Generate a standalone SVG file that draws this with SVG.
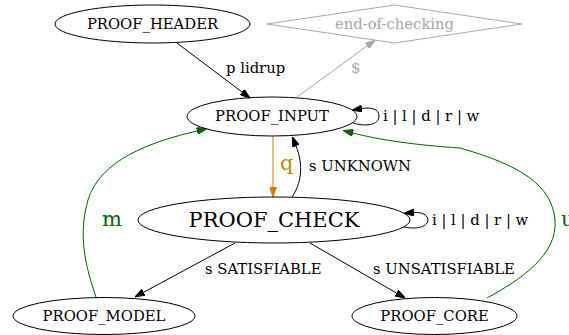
<svg xmlns="http://www.w3.org/2000/svg" width="569" height="335" viewBox="0 0 569 335">
<style>
text{font-family:"DejaVu Serif","Liberation Serif",serif;font-size:14.8px;fill:#000}
.n{fill:none;stroke:#000;stroke-width:1}
.c{text-anchor:middle}
.e{fill:none;stroke:#000;stroke-width:1}
.gray{stroke:#a8a8a8}
.grayt{fill:#a8a8a8}
.org{stroke:#cd8500}
.orgt{fill:#cd8500;font-size:21px}
.grn{stroke:#006400}
.grnt{fill:#006400;font-size:21px}
</style>
<defs>
<marker id="ab" markerUnits="userSpaceOnUse" markerWidth="10" markerHeight="7" refX="0" refY="3.5" orient="auto"><path d="M0,0 L10,3.5 L0,7 z" fill="#000" stroke="#000" stroke-width="1"/></marker>
<marker id="ag" markerUnits="userSpaceOnUse" markerWidth="10" markerHeight="7" refX="0" refY="3.5" orient="auto"><path d="M0,0 L10,3.5 L0,7 z" fill="#a8a8a8" stroke="#a8a8a8" stroke-width="1"/></marker>
<marker id="ao" markerUnits="userSpaceOnUse" markerWidth="10" markerHeight="7" refX="0" refY="3.5" orient="auto"><path d="M0,0 L10,3.5 L0,7 z" fill="#cd8500" stroke="#cd8500" stroke-width="1"/></marker>
<marker id="agr" markerUnits="userSpaceOnUse" markerWidth="10" markerHeight="7" refX="0" refY="3.5" orient="auto"><path d="M0,0 L10,3.5 L0,7 z" fill="#006400" stroke="#006400" stroke-width="1"/></marker>
</defs>
<g id="connectors">
<path class="e" d="M177,43 L242,92" marker-end="url(#ab)"/>
<text x="226" y="73">p lidrup</text>
<path class="e gray" d="M297,97 L367,46" marker-end="url(#ag)"/>
<text x="351" y="73" class="grayt">$</text>
<path class="e" d="M353,123 C366,127 379,125 379,116 C379,109 371,107 362,108.5" marker-end="url(#ab)"/>
<text x="383" y="121">i | l | d | r | w</text>
<path class="e org" d="M273,136 L273,187" marker-end="url(#ao)"/>
<text x="280" y="170" class="orgt">q</text>
<path class="e" d="M292,197 C301,184 304,166 296,146" marker-end="url(#ab)"/>
<text x="309" y="171">s UNKNOWN</text>
<path class="e" d="M404,227 C418,230 428,226 428,220 C428,214 420,212 414,212.5" marker-end="url(#ab)"/>
<text x="432" y="225">i | l | d | r | w</text>
<path class="e" d="M235,243 L143.8,292.2" marker-end="url(#ab)"/>
<text x="205" y="274">s SATISFIABLE</text>
<path class="e" d="M310,243 L396.4,293" marker-end="url(#ab)"/>
<text x="373" y="274">s UNSATISFIABLE</text>
<path class="e grn" d="M96,297 C85,265 78,235 88,200 C100,160 150,142 197,131" marker-end="url(#agr)"/>
<text x="102" y="226" class="grnt">m</text>
<path class="e grn" d="M487,298 C520,280 558,255 555,220 C552,185 520,165 460,148 C415,145 380,140 353,133" marker-end="url(#agr)"/>
<text x="561" y="226" class="grnt">u</text>
</g>
<g id="PROOF_HEADER"><ellipse class="n" cx="152.5" cy="24" rx="97.5" ry="19"/><text class="c" x="152.5" y="29">PROOF_HEADER</text></g>
<g id="end-of-checking"><polygon class="n gray" points="394.5,5 522,24 394.5,43 267,24"/><text class="c grayt" x="394.5" y="29">end-of-checking</text></g>
<g id="PROOF_INPUT"><ellipse class="n" cx="272" cy="116.5" rx="85" ry="19.5"/><text class="c" x="272" y="121">PROOF_INPUT</text></g>
<g id="PROOF_CHECK"><ellipse class="n" cx="274" cy="220" rx="136" ry="23"/><text class="c" x="274" y="227" style="font-size:21px">PROOF_CHECK</text></g>
<g id="PROOF_MODEL"><ellipse class="n" cx="104" cy="316" rx="91" ry="18.5"/><text class="c" x="104" y="321">PROOF_MODEL</text></g>
<g id="PROOF_CORE"><ellipse class="n" cx="434.5" cy="316" rx="82.5" ry="18.5"/><text class="c" x="434.5" y="321">PROOF_CORE</text></g>
</svg>
